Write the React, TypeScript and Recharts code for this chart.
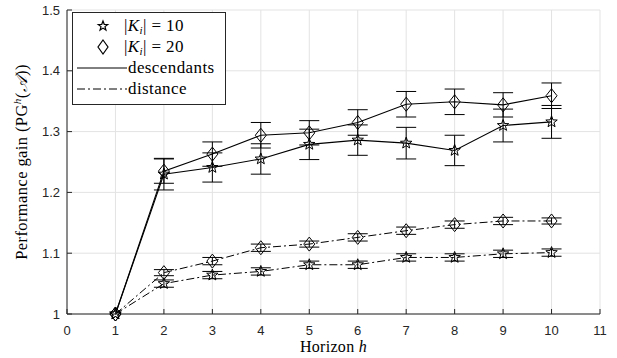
import React from "react";
import { LineChart, Line, XAxis, YAxis, CartesianGrid, ErrorBar } from "recharts";

// horizon h on x, performance gain on y
const horizon = [1, 2, 3, 4, 5, 6, 7, 8, 9, 10];

const descK10 = [1.0, 1.23, 1.241, 1.255, 1.279, 1.286, 1.281, 1.269, 1.31, 1.316];
const descK10Err = [0, 0.026, 0.024, 0.025, 0.025, 0.025, 0.026, 0.025, 0.027, 0.027];
const descK20 = [1.0, 1.235, 1.263, 1.294, 1.298, 1.315, 1.345, 1.349, 1.344, 1.359];
const descK20Err = [0, 0.02, 0.02, 0.021, 0.02, 0.021, 0.021, 0.021, 0.02, 0.021];

const distK10 = [1.0, 1.05, 1.064, 1.07, 1.081, 1.081, 1.093, 1.093, 1.099, 1.101];
const distK10Err = [0, 0.006, 0.006, 0.006, 0.006, 0.006, 0.006, 0.006, 0.006, 0.006];
const distK20 = [1.0, 1.068, 1.087, 1.109, 1.115, 1.126, 1.137, 1.147, 1.153, 1.153];
const distK20Err = [0, 0.005, 0.006, 0.006, 0.005, 0.006, 0.006, 0.006, 0.006, 0.005];

const xTicks = [0, 1, 2, 3, 4, 5, 6, 7, 8, 9, 10, 11];
const yTicks = [1, 1.1, 1.2, 1.3, 1.4, 1.5];

const data = horizon.map((h, i) => ({
  h,
  descK10: descK10[i],
  descK10Err: descK10Err[i],
  descK20: descK20[i],
  descK20Err: descK20Err[i],
  distK10: distK10[i],
  distK10Err: distK10Err[i],
  distK20: distK20[i],
  distK20Err: distK20Err[i],
}));

const INK = "#262626";
const SERIF = "'Liberation Serif', 'DejaVu Serif', serif";
const SANS = "'Liberation Sans', Arial, sans-serif";
const DASHDOT = "8 3 2 3";

function starPath(cx: number, cy: number, R: number, r: number) {
  let d = "";
  for (let k = 0; k < 10; k++) {
    const rad = k % 2 === 0 ? R : r;
    const a = -Math.PI / 2 + (k * Math.PI) / 5;
    d += (k === 0 ? "M" : "L") + (cx + rad * Math.cos(a)).toFixed(2) + "," + (cy + rad * Math.sin(a)).toFixed(2);
  }
  return d + "Z";
}

const StarDot = (props: any) => {
  const { cx, cy, index } = props;
  if (cx == null || cy == null) return <g key={`s-${index}`} />;
  return <path key={`s-${index}`} d={starPath(cx, cy, 6, 2.5)} fill="none" stroke="#000" strokeWidth={1} />;
};

const DiamondDot = (props: any) => {
  const { cx, cy, index } = props;
  if (cx == null || cy == null) return <g key={`d-${index}`} />;
  return (
    <path
      key={`d-${index}`}
      d={`M${cx},${cy - 7}L${cx + 5.5},${cy}L${cx},${cy + 7}L${cx - 5.5},${cy}Z`}
      fill="none"
      stroke="#000"
      strokeWidth={1}
    />
  );
};

const XLabel = (props: any) => {
  const { viewBox } = props;
  const cx = viewBox.x + viewBox.width / 2;
  return (
    <text x={cx} y={352} textAnchor="middle" fontFamily={SERIF} fontSize={16} letterSpacing={0.3} fill="#000">
      Horizon <tspan fontStyle="italic">h</tspan>
    </text>
  );
};

const YLabel = (props: any) => {
  const { viewBox } = props;
  const cy = viewBox.y + viewBox.height / 2;
  return (
    <text
      x={0}
      y={0}
      transform={`translate(27, ${cy}) rotate(-90)`}
      textAnchor="middle"
      fontFamily={SERIF}
      fontSize={16.5}
      letterSpacing={0.4}
      fill="#000"
    >
      Performance gain (PG
      <tspan fontSize={11} fontStyle="italic" dy={-6}>h</tspan>
      <tspan dy={6}>(</tspan>
      <tspan fontStyle="italic">𝒜</tspan>))
    </text>
  );
};

function ChartLegend() {
  const txt = { fontFamily: SERIF, fontSize: 17, fill: "#000", letterSpacing: 0.4 };
  return (
    <div style={{ position: "absolute", left: 72, top: 12 }}>
      <svg width={154} height={93}>
        <rect x={0.5} y={0.5} width={153} height={92} fill="#fff" stroke={INK} strokeWidth={1} />
        <path d={starPath(31, 14, 5, 2.1)} fill="none" stroke="#000" strokeWidth={1.2} />
        <text x={52} y={19} {...txt}>
          |<tspan fontStyle="italic">K</tspan>
          <tspan fontStyle="italic" fontSize={11} dy={3}>i</tspan>
          <tspan dy={-3}>| = 10</tspan>
        </text>
        <path d="M31,28L36,35L31,42L26,35Z" fill="none" stroke="#000" strokeWidth={1.2} />
        <text x={52} y={40} {...txt}>
          |<tspan fontStyle="italic">K</tspan>
          <tspan fontStyle="italic" fontSize={11} dy={3}>i</tspan>
          <tspan dy={-3}>| = 20</tspan>
        </text>
        <line x1={5} y1={56} x2={55} y2={56} stroke="#000" strokeWidth={1} />
        <text x={56} y={61} {...txt}>descendants</text>
        <line x1={5} y1={77} x2={55} y2={77} stroke="#000" strokeWidth={1} strokeDasharray={DASHDOT} />
        <text x={56} y={82} {...txt}>distance</text>
      </svg>
    </div>
  );
}

export default function App() {
  const tickStyle = { fontSize: 13, fill: INK, fontFamily: SANS };
  return (
    <div style={{ position: "absolute", left: 0, top: 0, width: 617, height: 358, background: "#fff" }}>
      <LineChart width={617} height={358} data={data} margin={{ top: 10, right: 17, bottom: 0, left: 0 }}>
        <CartesianGrid stroke="#e3e3e3" strokeWidth={1} />
        <XAxis
          xAxisId={0}
          dataKey="h"
          type="number"
          domain={[0, 11]}
          ticks={xTicks}
          interval={0}
          height={44}
          tick={tickStyle}
          tickSize={-5}
          tickMargin={17}
          stroke={INK}
          label={<XLabel />}
        />
        <XAxis
          xAxisId="top"
          orientation="top"
          dataKey="h"
          type="number"
          domain={[0, 11]}
          ticks={xTicks}
          interval={0}
          height={0}
          tick={false}
          tickSize={-5}
          stroke={INK}
        />
        <YAxis
          yAxisId={0}
          type="number"
          domain={[1, 1.5]}
          ticks={yTicks}
          interval={0}
          width={67}
          tick={tickStyle}
          tickSize={-5}
          tickMargin={12}
          tickFormatter={(v: number) => (v === 1 ? "1" : v.toFixed(1))}
          stroke={INK}
          label={<YLabel />}
        />
        <YAxis
          yAxisId="right"
          orientation="right"
          type="number"
          domain={[1, 1.5]}
          ticks={yTicks}
          interval={0}
          width={0}
          tick={false}
          tickSize={-5}
          stroke={INK}
        />
        <Line
          dataKey="distK10"
          stroke="#000"
          strokeWidth={1}
          strokeDasharray={DASHDOT}
          dot={StarDot}
          isAnimationActive={false}
        >
          <ErrorBar dataKey="distK10Err" width={10} stroke="#000" strokeWidth={1} direction="y" />
        </Line>
        <Line
          dataKey="distK20"
          stroke="#000"
          strokeWidth={1}
          strokeDasharray={DASHDOT}
          dot={DiamondDot}
          isAnimationActive={false}
        >
          <ErrorBar dataKey="distK20Err" width={10} stroke="#000" strokeWidth={1} direction="y" />
        </Line>
        <Line dataKey="descK10" stroke="#000" strokeWidth={1.1} dot={StarDot} isAnimationActive={false}>
          <ErrorBar dataKey="descK10Err" width={10} stroke="#000" strokeWidth={1} direction="y" />
        </Line>
        <Line dataKey="descK20" stroke="#000" strokeWidth={1.1} dot={DiamondDot} isAnimationActive={false}>
          <ErrorBar dataKey="descK20Err" width={10} stroke="#000" strokeWidth={1} direction="y" />
        </Line>
      </LineChart>
      <ChartLegend />
    </div>
  );
}
